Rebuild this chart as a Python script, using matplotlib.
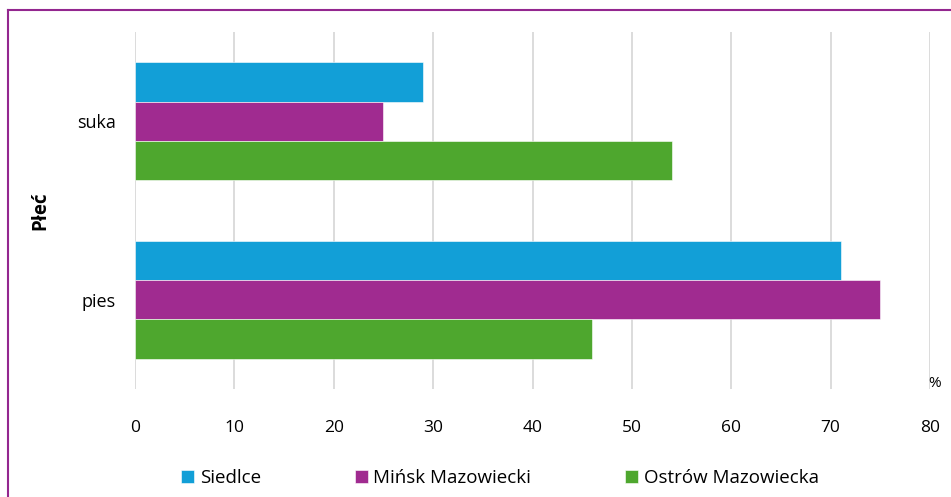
import matplotlib.pyplot as plt
import numpy as np
from matplotlib.lines import Line2D

plt.rcParams['font.family'] = ['Open Sans', 'DejaVu Sans']

# ---- data (percent of dogs by sex, per town) ----
categories = ['pies', 'suka']
towns = ['Siedlce', 'Mińsk Mazowiecki', 'Ostrów Mazowiecka']
siedlce = [71, 29]
minsk = [75, 25]
ostrow = [46, 54]
colors = ['#129fd7', '#a02b90', '#4ea72e']

fig = plt.figure(figsize=(9.51, 4.97), dpi=100)
ax = fig.add_axes([135/951, 1-389/497, (930-135)/951, (389-32)/497])

y = np.arange(len(categories))
h = 0.22
ax.barh(y + h, siedlce, height=h, color=colors[0], label=towns[0], edgecolor='white', linewidth=0.4, zorder=3)
ax.barh(y, minsk, height=h, color=colors[1], label=towns[1], edgecolor='white', linewidth=0.4, zorder=3)
ax.barh(y - h, ostrow, height=h, color=colors[2], label=towns[2], edgecolor='white', linewidth=0.4, zorder=3)

ax.set_xlim(0, 80)
ax.set_ylim(-0.5, 1.5)
ax.set_xticks(np.arange(0, 81, 10))
ax.set_yticks(y)
ax.set_yticklabels(categories, fontsize=13)
ax.tick_params(axis='x', labelsize=12.5, length=0, pad=22)
ax.tick_params(axis='y', length=0, pad=14)
ax.grid(axis='x', color='#d9d9d9', linewidth=1.3, zorder=0)
for s in ax.spines.values():
    s.set_visible(False)

ax.set_ylabel('Płeć', fontsize=13.5, fontweight='bold')
ax.yaxis.set_label_coords(-0.107, 0.5)
ax.text(1.006, -0.005, '%', transform=ax.transAxes, fontsize=11, ha='center', va='bottom')

fig.legend(loc='center', bbox_to_anchor=(500/951, 1-478/497), ncol=3, frameon=False,
           fontsize=13.5, handlelength=0.7, handleheight=0.7, handletextpad=0.3,
           columnspacing=5.0)

# frame lines on top and left
fig.add_artist(Line2D([8/951, 1], [1-10/497, 1-10/497], color='#93278f', lw=1.5, transform=fig.transFigure))
fig.add_artist(Line2D([8/951, 8/951], [0, 1-10/497], color='#93278f', lw=1.5, transform=fig.transFigure))

fig.savefig('out.png', dpi=100)
